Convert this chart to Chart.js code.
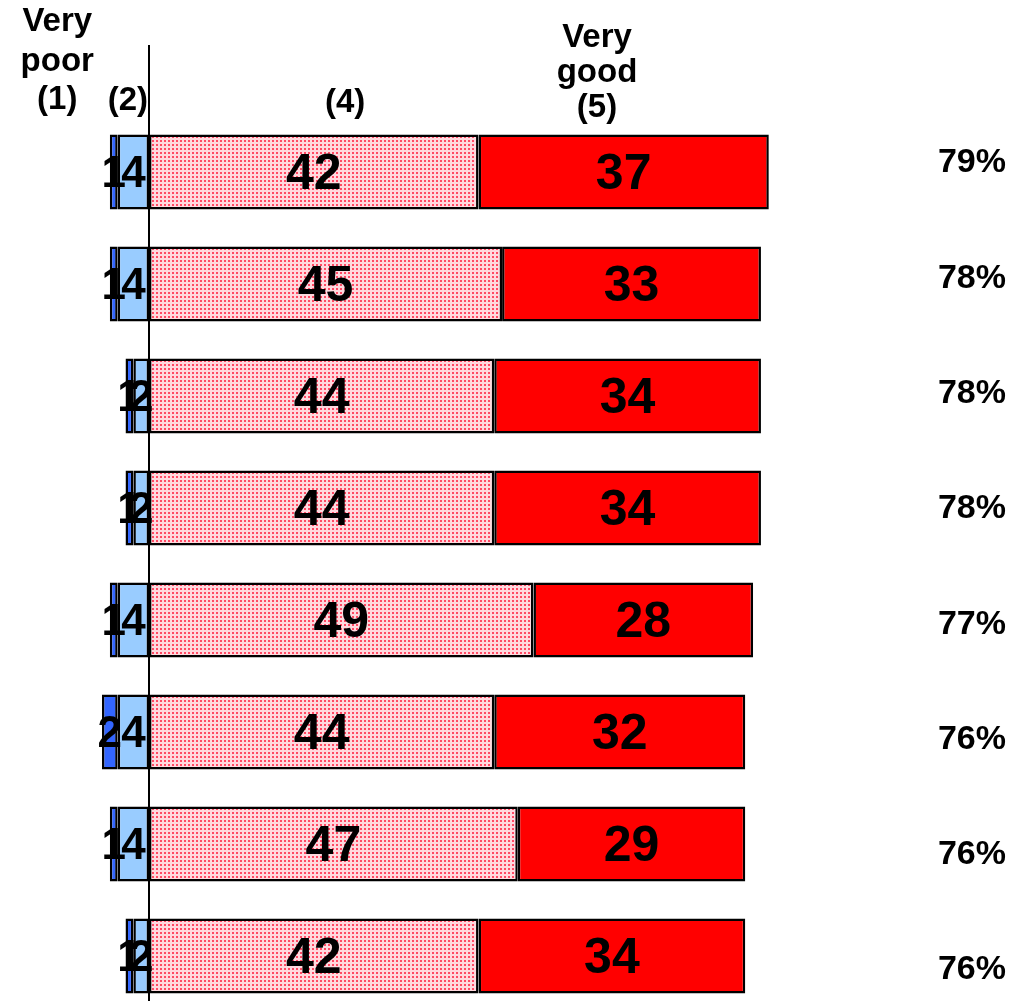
<!DOCTYPE html>
<html>
<head>
<meta charset="utf-8">
<script src="https://cdn.jsdelivr.net/npm/chart.js@4/dist/chart.umd.min.js"></script>
<style>
  html, body { margin: 0; padding: 0; background: #fff; overflow: hidden; }
  #wrap { position: relative; width: 1012px; height: 1012px; }
</style>
</head>
<body>
<div id="wrap"><canvas id="c"></canvas></div>
<script>
// ---- data ----
const categories = ['Row 1', 'Row 2', 'Row 3', 'Row 4', 'Row 5', 'Row 6', 'Row 7', 'Row 8'];
const veryPoor1 = [1, 1, 1, 1, 1, 2, 1, 1];
const poor2 = [4, 4, 2, 2, 4, 4, 4, 2];
const good4 = [42, 45, 44, 44, 49, 44, 47, 42];
const veryGood5 = [37, 33, 34, 34, 28, 32, 29, 34];
const topTwoLabels = ['79%', '78%', '78%', '78%', '77%', '76%', '76%', '76%'];
const headerLines = [
  ['Very', 'poor', '(1)'],
  ['(2)'],
  ['(4)'],
  ['Very', 'good', '(5)']
];

const FONT = '"Liberation Sans", Arial, sans-serif';

// dotted pattern for (4)
function makePattern() {
  const p = document.createElement('canvas');
  p.width = 4; p.height = 4;
  const g = p.getContext('2d');
  g.fillStyle = '#FFD9DE';
  g.fillRect(0, 0, 4, 4);
  g.fillStyle = '#FF4A64';
  g.fillRect(0, 0, 2, 2);
  return document.getElementById('c').getContext('2d').createPattern(p, 'repeat');
}

const labelPlugin = {
  id: 'segLabels',
  afterDatasetsDraw(chart) {
    const ctx = chart.ctx;
    const x = chart.scales.x;
    const area = chart.chartArea;
    // zero line
    ctx.save();
    ctx.strokeStyle = '#000';
    ctx.lineWidth = 2;
    const zx = Math.round(x.getPixelForValue(0));
    ctx.beginPath();
    ctx.moveTo(zx, 45);
    ctx.lineTo(zx, chart.height);
    ctx.stroke();
    ctx.restore();

    ctx.save();
    ctx.fillStyle = '#000';
    ctx.textAlign = 'center';
    ctx.textBaseline = 'middle';
    chart.data.datasets.forEach((ds, di) => {
      const meta = chart.getDatasetMeta(di);
      ctx.font = 'bold ' + ds.labelSize + 'px ' + FONT;
      meta.data.forEach((bar, i) => {
        const v = Math.abs(ds.data[i]);
        const cx = (bar.x + bar.base) / 2;
        ctx.fillText(String(v), cx, bar.y + 3);
      });
    });
    // top-two percentages
    const y2 = chart.scales.y2;
    ctx.font = 'bold 34px ' + FONT;
    ctx.textAlign = 'right';
    topTwoLabels.forEach((t, i) => {
      ctx.fillText(t, area.right - 6, y2.getPixelForValue(i));
    });
    // headers
    ctx.font = 'bold 33px ' + FONT;
    ctx.textAlign = 'center';
    const hdr = [
      { v: -11.7, ys: [22, 62, 100] },
      { v: -2.7, ys: [101] },
      { v: 25, ys: [103] },
      { v: 57.1, ys: [38, 73, 108] }
    ];
    hdr.forEach((h, k) => {
      headerLines[k].forEach((line, j) => {
        ctx.fillText(line, x.getPixelForValue(h.v), h.ys[j]);
      });
    });
    ctx.restore();
  }
};

const neg = a => a.map(v => -v);
const common = { borderColor: '#000', borderWidth: 2.5, borderSkipped: false, stack: 's',
  barPercentage: 0.67, categoryPercentage: 1.0 };

new Chart(document.getElementById('c'), {
  type: 'bar',
  data: {
    labels: categories,
    datasets: [
      Object.assign({ label: '(2)', data: neg(poor2), backgroundColor: '#99CCFF', labelSize: 44 }, common),
      Object.assign({ label: 'Very poor (1)', data: neg(veryPoor1), backgroundColor: '#3366FF', labelSize: 44 }, common),
      Object.assign({ label: '(4)', data: good4, backgroundColor: makePattern(), labelSize: 50 }, common),
      Object.assign({ label: 'Very good (5)', data: veryGood5, backgroundColor: '#FF0000', labelSize: 50 }, common)
    ]
  },
  options: {
    indexAxis: 'y',
    responsive: true,
    maintainAspectRatio: false,
    animation: false,
    layout: { padding: { top: 116, left: 0, right: 0, bottom: 0 } },
    plugins: { legend: { display: false }, tooltip: { enabled: false } },
    scales: {
      x: { type: 'linear', stacked: true, min: -19, max: 110, display: false },
      y: { type: 'category', stacked: true, display: false, offset: true },
      y2: { type: 'linear', reverse: true, offset: false, bounds: 'data', min: -0.408, max: 7.364, display: false,
            grid: { offset: false },
            afterDataLimits(s) { s.min = -0.408; s.max = 7.364; },
            afterBuildTicks(s) { s.min = -0.408; s.max = 7.364; } }
    }
  },
  plugins: [labelPlugin]
});
</script>
</body>
</html>
